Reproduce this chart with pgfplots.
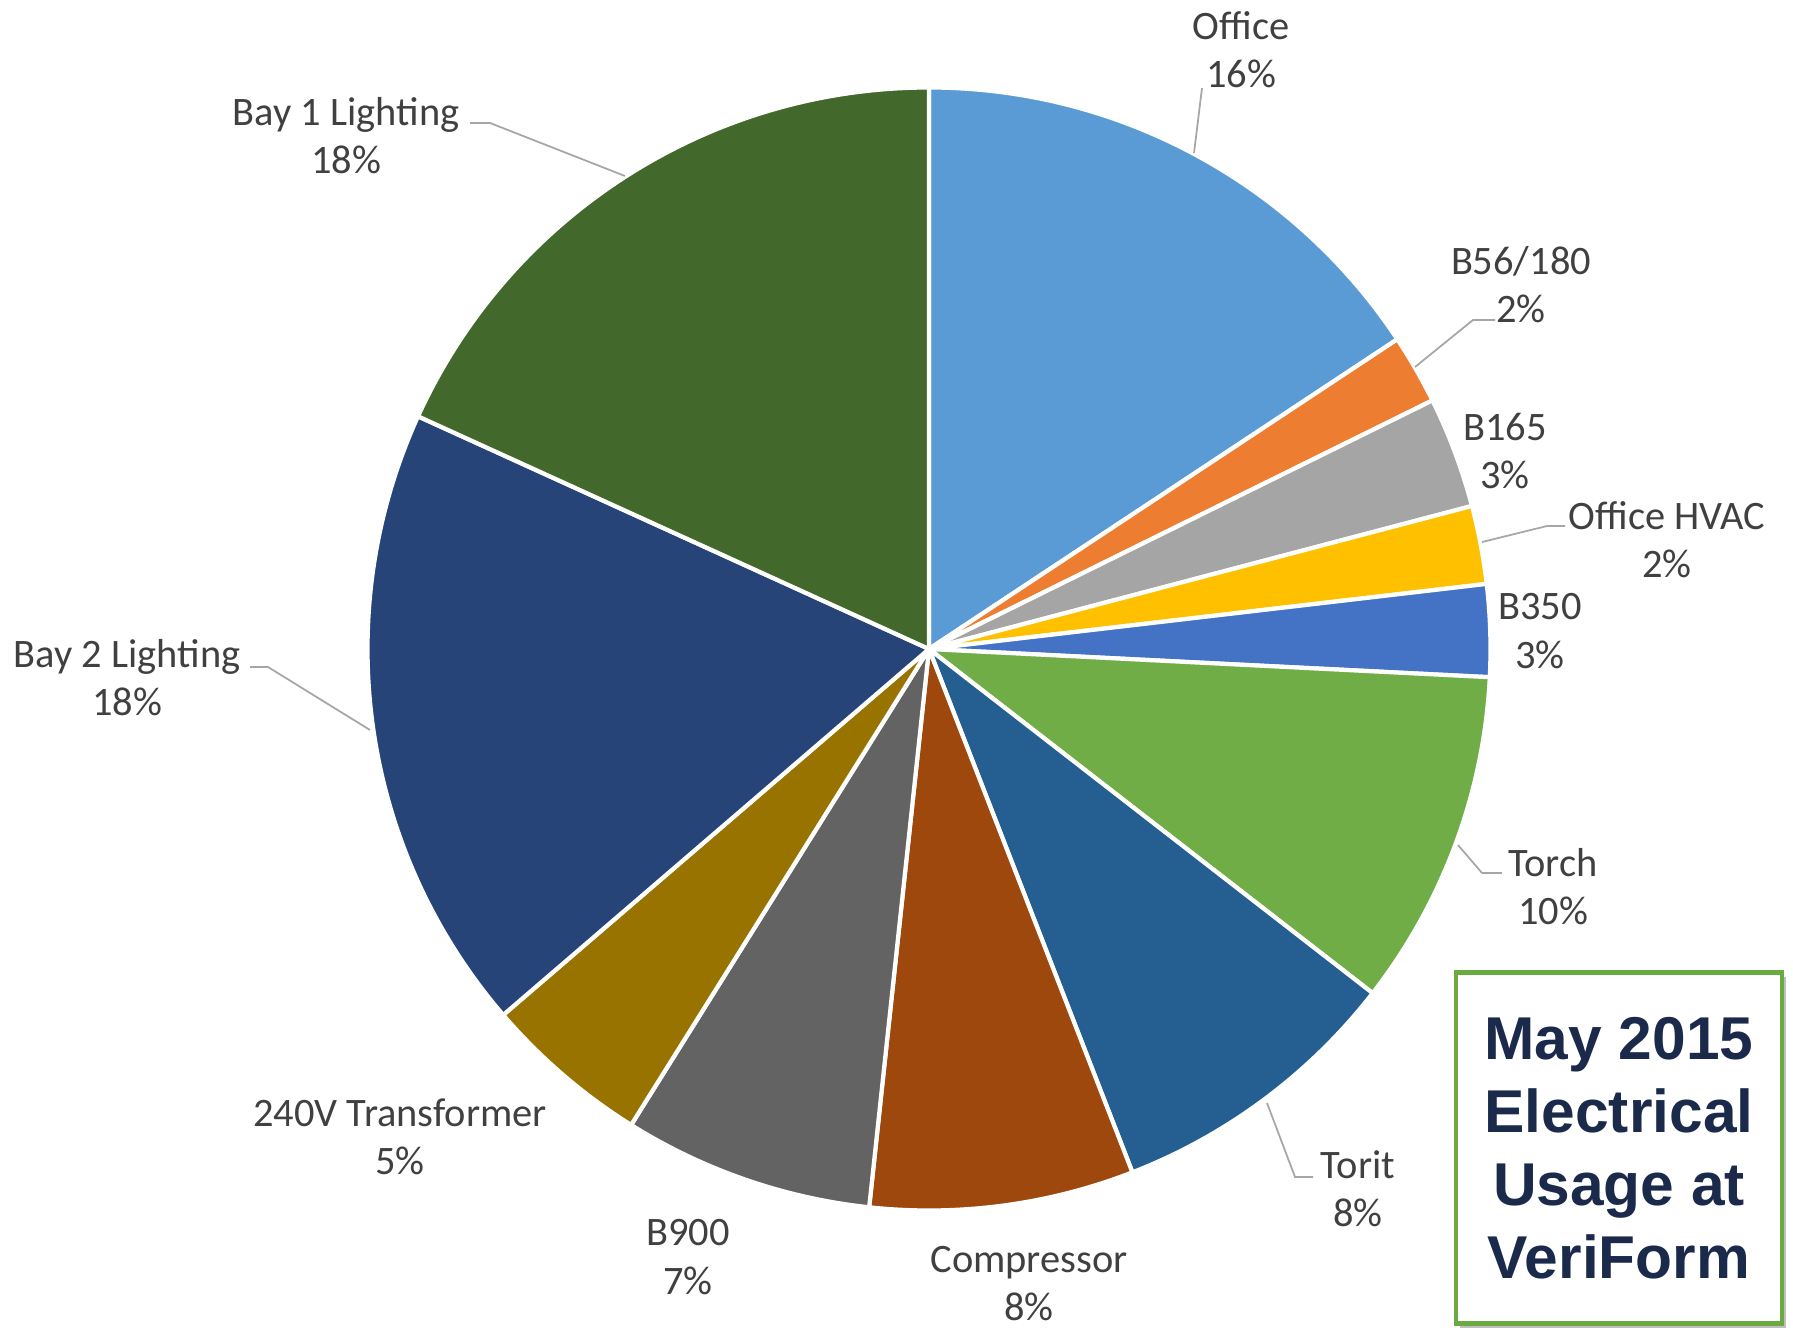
\documentclass[border=0pt]{standalone}
\usepackage{pgfplots}
\pgfplotsset{compat=1.18}
\usepackage{fontspec}
\setmainfont{Carlito}
\newfontfamily\boxfont{Liberation Sans}
\definecolor{cOffice}{HTML}{5B9BD5}
\definecolor{cBfs}{HTML}{ED7D31}
\definecolor{cBoneSixFive}{HTML}{A5A5A5}
\definecolor{cHVAC}{HTML}{FFC000}
\definecolor{cBthree}{HTML}{4472C4}
\definecolor{cTorch}{HTML}{70AD47}
\definecolor{cTorit}{HTML}{255E91}
\definecolor{cComp}{HTML}{9E480E}
\definecolor{cBnine}{HTML}{636363}
\definecolor{cTrans}{HTML}{997300}
\definecolor{cBayTwo}{HTML}{264478}
\definecolor{cBayOne}{HTML}{43682B}
\definecolor{labtext}{HTML}{404040}
\definecolor{leader}{HTML}{A6A6A6}
\definecolor{navy}{HTML}{1B2A4A}
\definecolor{boxgreen}{HTML}{6AAB3F}
\begin{document}
\begin{tikzpicture}
\begin{axis}[scale only axis, width=179.3mm, height=133mm,
  xmin=0, xmax=1793, ymin=0, ymax=1330, hide axis, clip=false]
\def\cumul{0}
\foreach \v/\col in {15.7/cOffice, 2.0/cBfs, 3.2/cBoneSixFive, 2.25/cHVAC, 2.65/cBthree,
  9.7/cTorch, 8.6/cTorit, 7.6/cComp, 7.2/cBnine, 4.8/cTrans, 18.1/cBayTwo, 18.2/cBayOne}{
  \pgfmathsetmacro\a{90-3.6*\cumul}
  \pgfmathsetmacro\b{90-3.6*(\cumul+\v)}
  \edef\temp{\noexpand\fill[\col, draw=white, line width=1.2pt, line join=round]
    (axis cs:929,681) -- ++(\a:56.15mm) arc[start angle=\a, end angle=\b, radius=56.15mm] -- cycle;}
  \temp
  \pgfmathsetmacro\newc{\cumul+\v}
  \global\let\cumul\newc
}
% leader lines
\draw[leader, line width=0.5pt] (axis cs:1202,1242) -- (axis cs:1194,1177);
\draw[leader, line width=0.5pt] (axis cs:1495,1010) -- (axis cs:1473,1010) -- (axis cs:1415,963);
\draw[leader, line width=0.5pt] (axis cs:1565,804) -- (axis cs:1547,804) -- (axis cs:1482,788);
\draw[leader, line width=0.5pt] (axis cs:1502,457) -- (axis cs:1482,457) -- (axis cs:1458,485);
\draw[leader, line width=0.5pt] (axis cs:1313,153) -- (axis cs:1295,153) -- (axis cs:1267,227);
\draw[leader, line width=0.5pt] (axis cs:470,1207) -- (axis cs:490,1207) -- (axis cs:625,1154);
\draw[leader, line width=0.5pt] (axis cs:250,663) -- (axis cs:268,663) -- (axis cs:370,600);
% labels
\tikzset{lab/.style={align=center, inner sep=0pt, text=labtext, font=\fontsize{11.5}{13.7}\selectfont}}
\node[lab] at (axis cs:1241,1280) {Office\\16\%};
\node[lab] at (axis cs:1521,1045) {B56/180\\2\%};
\node[lab] at (axis cs:1505,879) {B165\\3\%};
\node[lab] at (axis cs:1667,790) {Office HVAC\\2\%};
\node[lab] at (axis cs:1540,699) {B350\\3\%};
\node[lab] at (axis cs:1553,443) {Torch\\10\%};
\node[lab] at (axis cs:1358,141) {Torit\\8\%};
\node[lab] at (axis cs:1029,46.5) {Compressor\\8\%};
\node[lab] at (axis cs:688,73) {B900\\7\%};
\node[lab] at (axis cs:400,193) {240V Transformer\\5\%};
\node[lab] at (axis cs:127,652) {Bay 2 Lighting\\18\%};
\node[lab] at (axis cs:346,1194) {Bay 1 Lighting\\18\%};
% title box
\fill[black!25] (axis cs:1460,2) rectangle (axis cs:1786,353);
\node[draw=boxgreen, line width=1.2pt, fill=white, minimum width=32.6mm, minimum height=35.1mm,
  align=center, text=navy, font=\boxfont\bfseries\fontsize{17.2}{20.8}\selectfont, inner sep=0pt]
  at (axis cs:1619,182) {May 2015\\Electrical\\Usage at\\VeriForm};
\end{axis}
\pgfresetboundingbox
\path (current axis.south west) rectangle (current axis.north east);
\end{tikzpicture}
\end{document}
